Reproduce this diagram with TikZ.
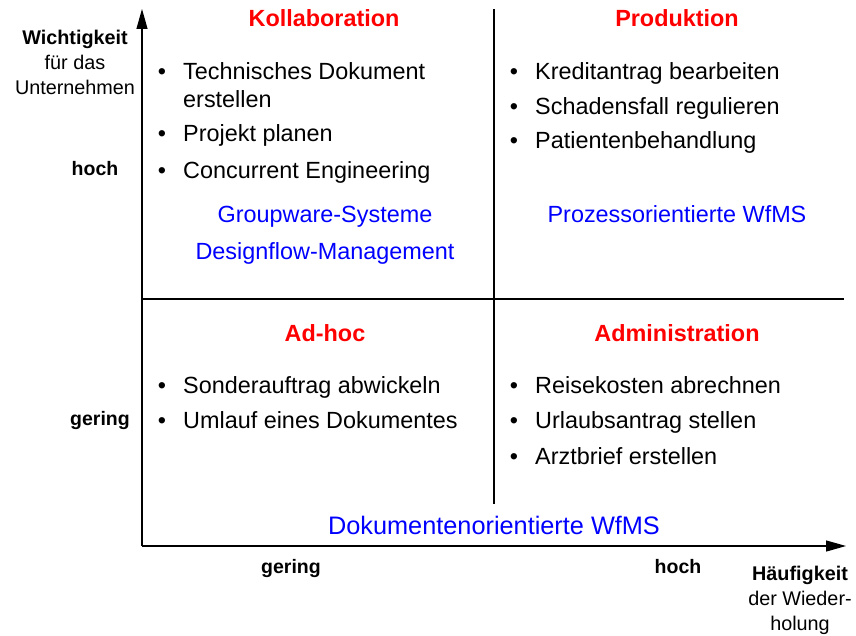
\documentclass[tikz,border=0pt]{standalone}
\usepackage{fontspec}
\setmainfont{Liberation Sans}
\usetikzlibrary{arrows.meta}
\definecolor{hdred}{RGB}{255,0,0}
\definecolor{sysblue}{RGB}{0,0,255}
\begin{document}
\begin{tikzpicture}[x=1pt,y=-1pt,
  item/.style={anchor=base west,inner sep=0pt,font=\fontsize{23.4}{28}\selectfont},
  bul/.style={anchor=base,inner sep=0pt,font=\fontsize{23.4}{28}\selectfont},
  title/.style={anchor=base,inner sep=0pt,text=hdred,font=\fontsize{23.4}{28}\selectfont\bfseries},
  sys/.style={anchor=base,inner sep=0pt,text=sysblue,font=\fontsize{23.4}{28}\selectfont},
  lvl/.style={anchor=base,inner sep=0pt,font=\fontsize{19.5}{24}\selectfont\bfseries},
  axlab/.style={anchor=center,inner sep=0pt,align=center,font=\fontsize{19.8}{25}\selectfont},
  axis/.style={line width=1.2pt,-{Triangle[length=20pt,width=11pt]}},
  divider/.style={line width=1.2pt}
]
\useasboundingbox (0,0) rectangle (856,636);
% axes
\coordinate (O) at (142,546);
\coordinate (ytip) at (142,9);
\coordinate (xtip) at (846,546);
\draw[axis] (O) -- (ytip);
\draw[axis] (O) -- (xtip);
% dividers
\coordinate (vtop) at (494,9);
\coordinate (vbot) at (494,504);
\coordinate (hl) at (142,299);
\coordinate (hr) at (844,299);
\draw[divider] (vtop) -- (vbot);
\draw[divider] (hl) -- (hr);
% titles
\node[title] (tkoll) at (324,27) {Kollaboration};
\node[title] (tprod) at (677,27) {Produktion};
\node[title] (tadhoc) at (325,341) {Ad-hoc};
\node[title] (tadmin) at (677,341) {Administration};
% Kollaboration items
\node[bul] (b1) at (162,80) {•};
\node[item] (i1) at (183,80) {Technisches Dokument};
\node[item] (i1b) at (183,108) {erstellen};
\node[bul] (b2) at (162,142) {•};
\node[item] (i2) at (183,142) {Projekt planen};
\node[bul] (b3) at (162,179) {•};
\node[item] (i3) at (183,179) {Concurrent Engineering};
\node[sys] (s1) at (325,223) {Groupware-Systeme};
\node[sys] (s2) at (325,259) {Designflow-Management};
% Produktion items
\node[bul] (b4) at (514,80) {•};
\node[item] (i4) at (535,80) {Kreditantrag bearbeiten};
\node[bul] (b5) at (514,115) {•};
\node[item] (i5) at (535,115) {Schadensfall regulieren};
\node[bul] (b6) at (514,149) {•};
\node[item] (i6) at (535,149) {Patientenbehandlung};
\node[sys] (s3) at (677,223) {Prozessorientierte WfMS};
% Ad-hoc items
\node[bul] (b7) at (162,393) {•};
\node[item] (i7) at (183,393) {Sonderauftrag abwickeln};
\node[bul] (b8) at (162,428) {•};
\node[item] (i8) at (183,428) {Umlauf eines Dokumentes};
% Administration items
\node[bul] (b9) at (514,393) {•};
\node[item] (i9) at (535,393) {Reisekosten abrechnen};
\node[bul] (b10) at (514,428) {•};
\node[item] (i10) at (535,428) {Urlaubsantrag stellen};
\node[bul] (b11) at (514,464) {•};
\node[item] (i11) at (535,464) {Arztbrief erstellen};
\node[sys,font=\fontsize{25.3}{30}\selectfont] (s4) at (494,534) {Dokumentenorientierte WfMS};
% level labels
\node[lvl] (yhoch) at (95,176) {hoch};
\node[lvl] (ygering) at (100,425) {gering};
\node[lvl] (xgering) at (291,573) {gering};
\node[lvl] (xhoch) at (678,573) {hoch};
% axis labels
\node[axlab] (ylab) at (75,62) {\textbf{Wichtigkeit}\\für das\\Unternehmen};
\node[axlab] (xlab) at (800,600) {\textbf{Häufigkeit}\\der Wieder-\\holung};
\end{tikzpicture}
\end{document}
